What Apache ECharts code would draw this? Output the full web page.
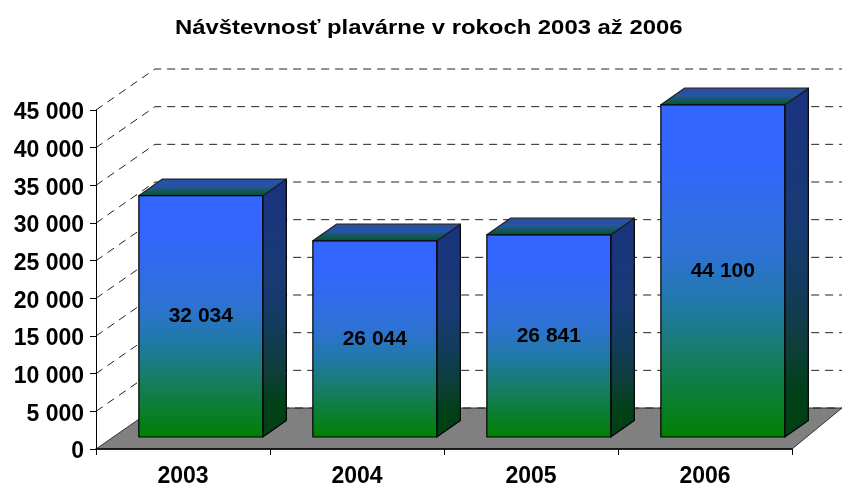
<!DOCTYPE html>
<html>
<head>
<meta charset="utf-8">
<style>html,body{margin:0;padding:0;background:#fff}#c{width:842px;height:483px}</style>
<script src="https://cdn.jsdelivr.net/npm/echarts@6/dist/echarts.min.js"></script>
</head>
<body>
<div id="c"></div>
<script>
const titleText = 'Návštevnosť plavárne v rokoch 2003 až 2006';
const categories = ['2003', '2004', '2005', '2006'];
const visits = [32034, 26044, 26841, 44100];
const gridTicks = [0, 5000, 10000, 15000, 20000, 25000, 30000, 35000, 40000, 45000];

const fmt = v => String(v).replace(/\B(?=(\d{3})+$)/g, ' ');
const font = '"Liberation Sans", Arial, sans-serif';
const wallDx = 59, wallDy = 41, rightDx = 50;
const barOffX = 17.8, barOffY = 12, depthX = 23.6, depthY = 16.6, barFrac = 0.712;

const grad = stops => ({type: 'linear', x: 0, y: 0, x2: 0, y2: 1,
  colorStops: stops.map(s => ({offset: s[0], color: s[1]}))});
const frontFill = [[0, '#3366FF'], [0.15, '#3366FF'], [0.45, '#2E72D4'], [0.6, '#2079A8'], [0.75, '#187C68'], [1, '#008000']];
const sideFill = [[0, '#1A3380'], [0.4, '#183A74'], [0.6, '#113C58'], [0.75, '#0E3E38'], [0.87, '#004018'], [1, '#004010']];
const topFill = [[0, '#2650B0'], [0.45, '#2555A0'], [0.75, '#0F5A50'], [1, '#005030']];

const chart = echarts.init(document.getElementById('c'), null, {renderer: 'canvas'});
chart.setOption({
  animation: false,
  backgroundColor: '#fff',
  graphic: [{
    type: 'text', x: 175, y: 28, scaleX: 1.193, z: 10, silent: true,
    style: {text: titleText, fontFamily: font, fontWeight: 'bold', fontSize: 20, fill: '#000', align: 'left', verticalAlign: 'middle'}
  }],
  grid: {left: 96, right: 50, top: 110, bottom: 34, outerBoundsMode: 'none', containLabel: false},
  xAxis: {
    type: 'category', data: categories, z: 6,
    axisLine: {lineStyle: {color: '#000', width: 1.5}},
    axisTick: {show: true, length: 6, lineStyle: {color: '#000', width: 1}, alignWithLabel: false},
    axisLabel: {fontFamily: font, fontWeight: 'bold', fontSize: 23, color: '#000', margin: 16}
  },
  yAxis: {
    type: 'value', min: 0, max: 45000, interval: 5000, z: 6,
    axisLine: {show: true, lineStyle: {color: '#000', width: 1}},
    axisTick: {show: true, length: 6, lineStyle: {color: '#000', width: 1}},
    splitLine: {show: false},
    axisLabel: {
      margin: 12,
      formatter: v => '{n|' + fmt(v) + '}',
      rich: {n: {fontFamily: font, fontWeight: 'bold', fontSize: 23, color: '#000', padding: [6, 0, 0, 0]}}
    }
  },
  series: [
    {
      type: 'custom', coordinateSystem: 'cartesian2d', silent: true, z: 1,
      data: [0],
      renderItem(params, api) {
        const cs = params.coordSys;
        const x0 = cs.x, x1 = cs.x + cs.width, y0 = cs.y + cs.height;
        return {
          type: 'polygon',
          shape: {points: [[x0, y0], [x0 + wallDx, y0 - wallDy], [x1 + rightDx, y0 - wallDy], [x1, y0]]},
          style: {fill: '#808080', stroke: '#333', lineWidth: 1}
        };
      }
    },
    {
      type: 'custom', coordinateSystem: 'cartesian2d', silent: true, z: 2,
      data: gridTicks.map(v => [0, v]),
      encode: {x: 0, y: 1},
      renderItem(params, api) {
        const cs = params.coordSys;
        const y = api.coord([0, api.value(1)])[1];
        const x0 = cs.x;
        return {
          type: 'polyline',
          shape: {points: api.value(1) === 0
            ? [[x0 + wallDx, y - wallDy], [842, y - wallDy]]
            : [[x0, y], [x0 + wallDx, y - wallDy], [842, y - wallDy]]},
          style: {fill: 'none', stroke: '#222', lineWidth: 1, lineDash: [8, 6]}
        };
      }
    },
    {
      type: 'custom', coordinateSystem: 'cartesian2d', silent: true, z: 3,
      data: visits.map((v, i) => [i, v]),
      encode: {x: 0, y: 1},
      renderItem(params, api) {
        const top = api.coord([api.value(0), api.value(1)]);
        const base = api.coord([api.value(0), 0]);
        const w = api.size([1, 0])[0] * barFrac;
        const l = top[0] + barOffX - w / 2, r = l + w;
        const t = top[1] - barOffY, b = base[1] - barOffY;
        const edge = {stroke: '#000', lineWidth: 1.2, lineJoin: 'round'};
        return {
          type: 'group',
          children: [
            {type: 'polygon', shape: {points: [[r, t], [r + depthX, t - depthY], [r + depthX, b - depthY], [r, b]]},
              style: Object.assign({fill: grad(sideFill)}, edge)},
            {type: 'polygon', shape: {points: [[l, t], [l + depthX, t - depthY], [r + depthX, t - depthY], [r, t]]},
              style: Object.assign({fill: grad(topFill)}, edge, {stroke: '#222'})},
            {type: 'rect', shape: {x: l, y: t, width: w, height: b - t},
              style: Object.assign({fill: grad(frontFill)}, edge)},
            {type: 'text', x: (l + r) / 2, y: (t + b) / 2,
              style: {text: fmt(api.value(1)), fontFamily: font, fontWeight: 'bold', fontSize: 21, fill: '#000', align: 'center', verticalAlign: 'middle'}}
          ]
        };
      }
    }
  ]
});
</script>
</body>
</html>
